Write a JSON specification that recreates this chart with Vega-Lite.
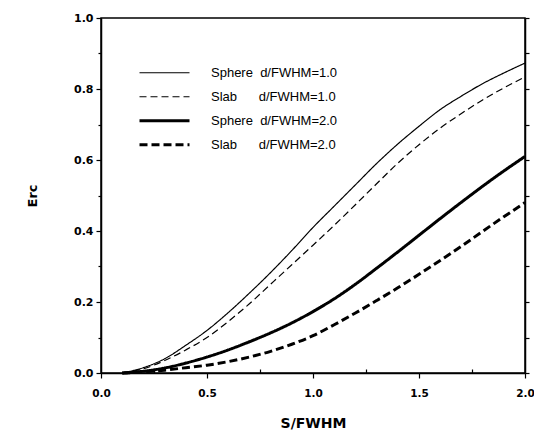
{
  "$schema": "https://vega.github.io/schema/vega-lite/v6.json",
  "width": 424,
  "height": 355,
  "padding": {"left": 26, "top": 12, "right": 3, "bottom": 3},
  "background": "white",
  "config": {
    "view": {"stroke": "black", "strokeWidth": 1.5},
    "font": "Liberation Sans",
    "axis": {
      "domainColor": "black", "domainWidth": 1.5,
      "tickColor": "black", "tickWidth": 1.2,
      "labelColor": "black", "titleColor": "black",
      "grid": false
    },
    "legend": {
      "labelFont": "Liberation Sans", "labelFontSize": 13, "labelColor": "black",
      "symbolType": "stroke", "symbolSize": 2500, "symbolStrokeColor": "black",
      "labelOffset": 20, "padding": 0, "rowPadding": 0, "clipHeight": 23.5
    }
  },
  "data": {"values": [
    {"s": 0.1, "E": 0.0, "series": "Sphere\u00a0\u00a0d/FWHM=1.0"},
    {"s": 0.2, "E": 0.015, "series": "Sphere\u00a0\u00a0d/FWHM=1.0"},
    {"s": 0.3, "E": 0.04, "series": "Sphere\u00a0\u00a0d/FWHM=1.0"},
    {"s": 0.4, "E": 0.078, "series": "Sphere\u00a0\u00a0d/FWHM=1.0"},
    {"s": 0.5, "E": 0.12, "series": "Sphere\u00a0\u00a0d/FWHM=1.0"},
    {"s": 0.6, "E": 0.17, "series": "Sphere\u00a0\u00a0d/FWHM=1.0"},
    {"s": 0.7, "E": 0.225, "series": "Sphere\u00a0\u00a0d/FWHM=1.0"},
    {"s": 0.8, "E": 0.283, "series": "Sphere\u00a0\u00a0d/FWHM=1.0"},
    {"s": 0.9, "E": 0.345, "series": "Sphere\u00a0\u00a0d/FWHM=1.0"},
    {"s": 1.0, "E": 0.41, "series": "Sphere\u00a0\u00a0d/FWHM=1.0"},
    {"s": 1.1, "E": 0.47, "series": "Sphere\u00a0\u00a0d/FWHM=1.0"},
    {"s": 1.2, "E": 0.53, "series": "Sphere\u00a0\u00a0d/FWHM=1.0"},
    {"s": 1.3, "E": 0.59, "series": "Sphere\u00a0\u00a0d/FWHM=1.0"},
    {"s": 1.4, "E": 0.645, "series": "Sphere\u00a0\u00a0d/FWHM=1.0"},
    {"s": 1.5, "E": 0.695, "series": "Sphere\u00a0\u00a0d/FWHM=1.0"},
    {"s": 1.6, "E": 0.742, "series": "Sphere\u00a0\u00a0d/FWHM=1.0"},
    {"s": 1.7, "E": 0.78, "series": "Sphere\u00a0\u00a0d/FWHM=1.0"},
    {"s": 1.8, "E": 0.815, "series": "Sphere\u00a0\u00a0d/FWHM=1.0"},
    {"s": 1.9, "E": 0.845, "series": "Sphere\u00a0\u00a0d/FWHM=1.0"},
    {"s": 2.0, "E": 0.873, "series": "Sphere\u00a0\u00a0d/FWHM=1.0"},
    {"s": 0.1, "E": 0.0, "series": "Slab\u00a0\u00a0\u00a0\u00a0\u00a0\u00a0d/FWHM=1.0"},
    {"s": 0.2, "E": 0.012, "series": "Slab\u00a0\u00a0\u00a0\u00a0\u00a0\u00a0d/FWHM=1.0"},
    {"s": 0.3, "E": 0.035, "series": "Slab\u00a0\u00a0\u00a0\u00a0\u00a0\u00a0d/FWHM=1.0"},
    {"s": 0.4, "E": 0.065, "series": "Slab\u00a0\u00a0\u00a0\u00a0\u00a0\u00a0d/FWHM=1.0"},
    {"s": 0.5, "E": 0.1, "series": "Slab\u00a0\u00a0\u00a0\u00a0\u00a0\u00a0d/FWHM=1.0"},
    {"s": 0.6, "E": 0.145, "series": "Slab\u00a0\u00a0\u00a0\u00a0\u00a0\u00a0d/FWHM=1.0"},
    {"s": 0.7, "E": 0.195, "series": "Slab\u00a0\u00a0\u00a0\u00a0\u00a0\u00a0d/FWHM=1.0"},
    {"s": 0.8, "E": 0.25, "series": "Slab\u00a0\u00a0\u00a0\u00a0\u00a0\u00a0d/FWHM=1.0"},
    {"s": 0.9, "E": 0.305, "series": "Slab\u00a0\u00a0\u00a0\u00a0\u00a0\u00a0d/FWHM=1.0"},
    {"s": 1.0, "E": 0.36, "series": "Slab\u00a0\u00a0\u00a0\u00a0\u00a0\u00a0d/FWHM=1.0"},
    {"s": 1.1, "E": 0.416, "series": "Slab\u00a0\u00a0\u00a0\u00a0\u00a0\u00a0d/FWHM=1.0"},
    {"s": 1.2, "E": 0.474, "series": "Slab\u00a0\u00a0\u00a0\u00a0\u00a0\u00a0d/FWHM=1.0"},
    {"s": 1.3, "E": 0.533, "series": "Slab\u00a0\u00a0\u00a0\u00a0\u00a0\u00a0d/FWHM=1.0"},
    {"s": 1.4, "E": 0.591, "series": "Slab\u00a0\u00a0\u00a0\u00a0\u00a0\u00a0d/FWHM=1.0"},
    {"s": 1.5, "E": 0.643, "series": "Slab\u00a0\u00a0\u00a0\u00a0\u00a0\u00a0d/FWHM=1.0"},
    {"s": 1.6, "E": 0.69, "series": "Slab\u00a0\u00a0\u00a0\u00a0\u00a0\u00a0d/FWHM=1.0"},
    {"s": 1.7, "E": 0.731, "series": "Slab\u00a0\u00a0\u00a0\u00a0\u00a0\u00a0d/FWHM=1.0"},
    {"s": 1.8, "E": 0.769, "series": "Slab\u00a0\u00a0\u00a0\u00a0\u00a0\u00a0d/FWHM=1.0"},
    {"s": 1.9, "E": 0.803, "series": "Slab\u00a0\u00a0\u00a0\u00a0\u00a0\u00a0d/FWHM=1.0"},
    {"s": 2.0, "E": 0.834, "series": "Slab\u00a0\u00a0\u00a0\u00a0\u00a0\u00a0d/FWHM=1.0"},
    {"s": 0.1, "E": 0.0, "series": "Sphere\u00a0\u00a0d/FWHM=2.0"},
    {"s": 0.2, "E": 0.005, "series": "Sphere\u00a0\u00a0d/FWHM=2.0"},
    {"s": 0.3, "E": 0.014, "series": "Sphere\u00a0\u00a0d/FWHM=2.0"},
    {"s": 0.4, "E": 0.028, "series": "Sphere\u00a0\u00a0d/FWHM=2.0"},
    {"s": 0.5, "E": 0.045, "series": "Sphere\u00a0\u00a0d/FWHM=2.0"},
    {"s": 0.6, "E": 0.065, "series": "Sphere\u00a0\u00a0d/FWHM=2.0"},
    {"s": 0.7, "E": 0.088, "series": "Sphere\u00a0\u00a0d/FWHM=2.0"},
    {"s": 0.8, "E": 0.113, "series": "Sphere\u00a0\u00a0d/FWHM=2.0"},
    {"s": 0.9, "E": 0.141, "series": "Sphere\u00a0\u00a0d/FWHM=2.0"},
    {"s": 1.0, "E": 0.173, "series": "Sphere\u00a0\u00a0d/FWHM=2.0"},
    {"s": 1.1, "E": 0.209, "series": "Sphere\u00a0\u00a0d/FWHM=2.0"},
    {"s": 1.2, "E": 0.25, "series": "Sphere\u00a0\u00a0d/FWHM=2.0"},
    {"s": 1.3, "E": 0.295, "series": "Sphere\u00a0\u00a0d/FWHM=2.0"},
    {"s": 1.4, "E": 0.341, "series": "Sphere\u00a0\u00a0d/FWHM=2.0"},
    {"s": 1.5, "E": 0.388, "series": "Sphere\u00a0\u00a0d/FWHM=2.0"},
    {"s": 1.6, "E": 0.435, "series": "Sphere\u00a0\u00a0d/FWHM=2.0"},
    {"s": 1.7, "E": 0.481, "series": "Sphere\u00a0\u00a0d/FWHM=2.0"},
    {"s": 1.8, "E": 0.526, "series": "Sphere\u00a0\u00a0d/FWHM=2.0"},
    {"s": 1.9, "E": 0.569, "series": "Sphere\u00a0\u00a0d/FWHM=2.0"},
    {"s": 2.0, "E": 0.61, "series": "Sphere\u00a0\u00a0d/FWHM=2.0"},
    {"s": 0.1, "E": 0.0, "series": "Slab\u00a0\u00a0\u00a0\u00a0\u00a0\u00a0d/FWHM=2.0"},
    {"s": 0.2, "E": 0.003, "series": "Slab\u00a0\u00a0\u00a0\u00a0\u00a0\u00a0d/FWHM=2.0"},
    {"s": 0.3, "E": 0.008, "series": "Slab\u00a0\u00a0\u00a0\u00a0\u00a0\u00a0d/FWHM=2.0"},
    {"s": 0.4, "E": 0.015, "series": "Slab\u00a0\u00a0\u00a0\u00a0\u00a0\u00a0d/FWHM=2.0"},
    {"s": 0.5, "E": 0.022, "series": "Slab\u00a0\u00a0\u00a0\u00a0\u00a0\u00a0d/FWHM=2.0"},
    {"s": 0.6, "E": 0.032, "series": "Slab\u00a0\u00a0\u00a0\u00a0\u00a0\u00a0d/FWHM=2.0"},
    {"s": 0.7, "E": 0.045, "series": "Slab\u00a0\u00a0\u00a0\u00a0\u00a0\u00a0d/FWHM=2.0"},
    {"s": 0.8, "E": 0.061, "series": "Slab\u00a0\u00a0\u00a0\u00a0\u00a0\u00a0d/FWHM=2.0"},
    {"s": 0.9, "E": 0.081, "series": "Slab\u00a0\u00a0\u00a0\u00a0\u00a0\u00a0d/FWHM=2.0"},
    {"s": 1.0, "E": 0.105, "series": "Slab\u00a0\u00a0\u00a0\u00a0\u00a0\u00a0d/FWHM=2.0"},
    {"s": 1.1, "E": 0.136, "series": "Slab\u00a0\u00a0\u00a0\u00a0\u00a0\u00a0d/FWHM=2.0"},
    {"s": 1.2, "E": 0.169, "series": "Slab\u00a0\u00a0\u00a0\u00a0\u00a0\u00a0d/FWHM=2.0"},
    {"s": 1.3, "E": 0.204, "series": "Slab\u00a0\u00a0\u00a0\u00a0\u00a0\u00a0d/FWHM=2.0"},
    {"s": 1.4, "E": 0.24, "series": "Slab\u00a0\u00a0\u00a0\u00a0\u00a0\u00a0d/FWHM=2.0"},
    {"s": 1.5, "E": 0.278, "series": "Slab\u00a0\u00a0\u00a0\u00a0\u00a0\u00a0d/FWHM=2.0"},
    {"s": 1.6, "E": 0.317, "series": "Slab\u00a0\u00a0\u00a0\u00a0\u00a0\u00a0d/FWHM=2.0"},
    {"s": 1.7, "E": 0.357, "series": "Slab\u00a0\u00a0\u00a0\u00a0\u00a0\u00a0d/FWHM=2.0"},
    {"s": 1.8, "E": 0.399, "series": "Slab\u00a0\u00a0\u00a0\u00a0\u00a0\u00a0d/FWHM=2.0"},
    {"s": 1.9, "E": 0.44, "series": "Slab\u00a0\u00a0\u00a0\u00a0\u00a0\u00a0d/FWHM=2.0"},
    {"s": 2.0, "E": 0.48, "series": "Slab\u00a0\u00a0\u00a0\u00a0\u00a0\u00a0d/FWHM=2.0"}
  ]},
  "layer": [
    {
      "mark": {"type": "line", "color": "black", "interpolate": "monotone"},
      "encoding": {
        "x": {
          "field": "s", "type": "quantitative",
          "scale": {"domain": [0, 2], "nice": false},
          "axis": {
            "title": "S/FWHM",
            "values": [0, 0.25, 0.5, 0.75, 1, 1.25, 1.5, 1.75, 2],
            "labelExpr": "round(datum.value*4)%2==0 ? format(datum.value, '.1f') : ''",
            "tickSize": {"condition": {"test": "round(datum.value*4)%2==0", "value": 5}, "value": -4},
            "labelFont": "DejaVu Sans", "labelFontWeight": "bold", "labelFontSize": 10.5,
            "labelPadding": 10, "labelFlush": false,
            "titleFont": "DejaVu Sans", "titleFontWeight": "bold", "titleFontSize": 14,
            "titlePadding": 18
          }
        },
        "y": {
          "field": "E", "type": "quantitative",
          "scale": {"domain": [0, 1], "nice": false},
          "axis": {
            "title": "Erc",
            "values": [0, 0.1, 0.2, 0.3, 0.4, 0.5, 0.6, 0.7, 0.8, 0.9, 1.0],
            "labelExpr": "round(datum.value*10)%2==0 ? format(datum.value, '.1f') : ''",
            "tickSize": {"condition": {"test": "round(datum.value*10)%2==0", "value": 5}, "value": 3},
            "labelFont": "DejaVu Sans", "labelFontWeight": "bold", "labelFontSize": 11,
            "labelPadding": 3, "labelFlush": false,
            "titleFont": "DejaVu Sans", "titleFontWeight": "bold", "titleFontSize": 13,
            "titlePadding": 34
          }
        },
        "strokeDash": {
          "field": "series", "type": "nominal",
          "scale": {
            "type": "ordinal",
            "domain": ["Sphere\u00a0\u00a0d/FWHM=1.0", "Slab\u00a0\u00a0\u00a0\u00a0\u00a0\u00a0d/FWHM=1.0", "Sphere\u00a0\u00a0d/FWHM=2.0", "Slab\u00a0\u00a0\u00a0\u00a0\u00a0\u00a0d/FWHM=2.0"],
            "range": [[1, 0], [7, 4], [1, 0], [8, 4]]
          },
          "legend": {"title": null, "orient": "none", "legendX": 37, "legendY": 43}
        },
        "strokeWidth": {
          "field": "series", "type": "nominal",
          "scale": {
            "type": "ordinal",
            "domain": ["Sphere\u00a0\u00a0d/FWHM=1.0", "Slab\u00a0\u00a0\u00a0\u00a0\u00a0\u00a0d/FWHM=1.0", "Sphere\u00a0\u00a0d/FWHM=2.0", "Slab\u00a0\u00a0\u00a0\u00a0\u00a0\u00a0d/FWHM=2.0"],
            "range": [1.2, 1.2, 3, 3]
          },
          "legend": {"title": null, "orient": "none", "legendX": 37, "legendY": 43}
        }
      }
    },
    {
      "mark": {"type": "line", "opacity": 0},
      "encoding": {
        "x": {"field": "s", "type": "quantitative"},
        "y": {
          "field": "E", "type": "quantitative",
          "axis": {
            "orient": "right", "title": null, "labels": false,
            "values": [0, 0.1, 0.2, 0.3, 0.4, 0.5, 0.6, 0.7, 0.8, 0.9, 1.0],
            "tickSize": 4
          }
        },
        "detail": {"field": "series"}
      }
    }
  ],
  "resolve": {"axis": {"y": "independent"}}
}
